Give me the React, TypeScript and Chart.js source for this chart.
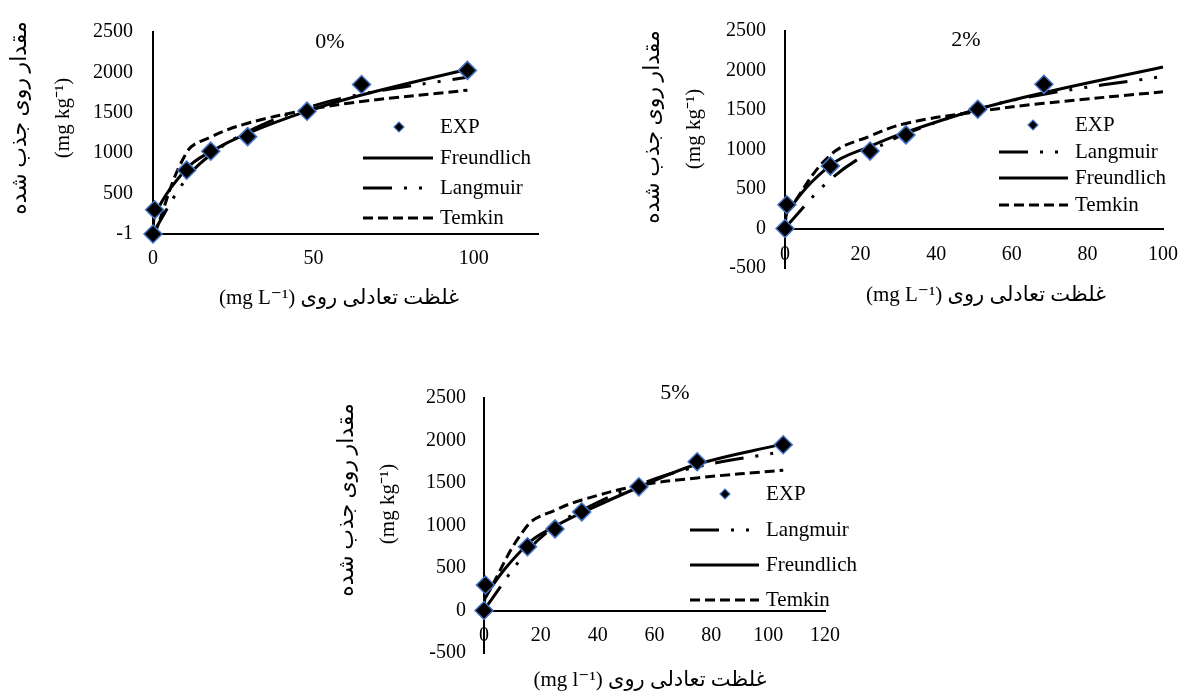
import React, { useEffect, useRef } from 'react';
import { Chart, registerables } from 'chart.js';

Chart.register(...registerables);

const SERIF = '"Liberation Serif", "Times New Roman", serif';
const MIXED = '"Liberation Serif", "DejaVu Sans", serif';

// ---------- 0% ----------
const C0_EXP = [0, 0.5, 10.5, 18, 29.5, 48, 65, 98];
const Q0_EXP = [0, 300, 790, 1025, 1205, 1520, 1850, 2025];
const C0_FIT = [0, 0.5, 10.5, 18, 29.5, 48, 65, 98];
const Q0_FREUNDLICH = [0, 235, 810, 1020, 1245, 1520, 1720, 2040];
const Q0_LANGMUIR = [0, 45, 690, 980, 1265, 1560, 1730, 1940];
const C0_TEMKIN = [0.5, 10.5, 18, 29.5, 48, 65, 98];
const Q0_TEMKIN = [0, 1010, 1200, 1370, 1535, 1640, 1780];
const X_TICKS_0 = [0, 50, 100];
const Y_TICKS_0 = [0, 500, 1000, 1500, 2000, 2500];
const Y_LABELS_0 = ['-1', '500', '1000', '1500', '2000', '2500'];
const LEGEND_0 = ['EXP', 'Freundlich', 'Langmuir', 'Temkin'];

// ---------- 2% ----------
const C2_EXP = [0, 0.5, 12, 22.5, 32, 51, 68.5];
const Q2_EXP = [0, 300, 790, 980, 1185, 1510, 1825];
const C2_FIT = [0, 0.5, 12, 22.5, 32, 51, 68.5, 100];
const Q2_LANGMUIR = [0, 35, 620, 970, 1200, 1510, 1700, 1925];
const Q2_FREUNDLICH = [0, 200, 800, 1040, 1220, 1510, 1720, 2045];
const C2_TEMKIN = [0.5, 12, 22.5, 32, 51, 68.5, 100];
const Q2_TEMKIN = [200, 930, 1170, 1330, 1480, 1585, 1730];
const X_TICKS_2 = [0, 20, 40, 60, 80, 100];
const Y_TICKS_2 = [-500, 0, 500, 1000, 1500, 2000, 2500];
const Y_LABELS_2 = ['-500', '0', '500', '1000', '1500', '2000', '2500'];
const LEGEND_2 = ['EXP', 'Langmuir', 'Freundlich', 'Temkin'];

// ---------- 5% ----------
const C5_EXP = [0, 0.5, 15.3, 25, 34.4, 54.5, 75, 105.3];
const Q5_EXP = [0, 300, 750, 960, 1160, 1455, 1750, 1950];
const C5_FIT = [0, 0.5, 15.3, 25, 34.4, 54.5, 75, 105.3];
const Q5_LANGMUIR = [0, 30, 700, 990, 1180, 1480, 1690, 1870];
const Q5_FREUNDLICH = [0, 170, 780, 990, 1150, 1450, 1720, 1960];
const C5_TEMKIN = [0.5, 15.3, 25, 34.4, 54.5, 75, 105.3];
const Q5_TEMKIN = [150, 1000, 1180, 1300, 1470, 1560, 1650];
const X_TICKS_5 = [0, 20, 40, 60, 80, 100, 120];
const Y_TICKS_5 = [-500, 0, 500, 1000, 1500, 2000, 2500];
const Y_LABELS_5 = ['-500', '0', '500', '1000', '1500', '2000', '2500'];
const LEGEND_5 = ['EXP', 'Langmuir', 'Freundlich', 'Temkin'];

const Y_TITLE = 'مقدار روی جذب شده';
const Y_UNIT = '(mg kg⁻¹)';
const X_TITLE_L = '(mg L⁻¹) غلظت تعادلی روی';
const X_TITLE_l = '(mg l⁻¹) غلظت تعادلی روی';

const LANG_DASH = [29, 12, 3, 12, 3, 12];
const TEMKIN_DASH = [10, 5];
const MARKER_BORDER = '#4472C4';

const pts = (xs: number[], ys: number[]) => xs.map((x, i) => ({ x, y: ys[i] }));

function buildDatasets(s: any) {
  const curve = (label: string, xs: number[], ys: number[], dash: number[]) => ({
    label,
    data: pts(xs, ys),
    showLine: true,
    borderColor: '#000',
    borderWidth: 3,
    borderDash: dash,
    pointRadius: 0,
    tension: 0.4,
    order: 1,
    clip: false,
  });
  return [
    {
      label: 'EXP',
      data: pts(s.expX, s.expY),
      showLine: false,
      pointStyle: 'rectRot',
      pointRadius: 9,
      pointBackgroundColor: '#000',
      pointBorderColor: MARKER_BORDER,
      pointBorderWidth: 1.5,
      order: 0,
      clip: false,
    },
    curve('Freundlich', s.fitX, s.freundlich, []),
    curve('Langmuir', s.fitX, s.langmuir, LANG_DASH),
    curve('Temkin', s.temX, s.temkin, TEMKIN_DASH),
  ];
}

function decorPlugin(cfg: any) {
  return {
    id: 'decor' + cfg.key,
    afterDraw(chart: any) {
      const ctx = chart.ctx as CanvasRenderingContext2D;
      ctx.save();
      ctx.fillStyle = '#000';
      ctx.font = `22px ${SERIF}`;
      ctx.textAlign = 'center';
      ctx.textBaseline = 'middle';
      ctx.fillText(cfg.title, cfg.titlePos[0], cfg.titlePos[1]);
      const ys: [string, number, number, string][] = [
        [Y_TITLE, cfg.yTitlePos[0][0], cfg.yTitlePos[0][1], `22px ${MIXED}`],
        [Y_UNIT, cfg.yTitlePos[1][0], cfg.yTitlePos[1][1], `21px ${SERIF}`],
      ];
      for (const [t, x, y, f] of ys) {
        ctx.save();
        ctx.translate(x, y);
        ctx.rotate(-Math.PI / 2);
        ctx.font = f;
        ctx.textAlign = 'center';
        ctx.textBaseline = 'middle';
        ctx.fillText(t, 0, 0);
        ctx.restore();
      }
      ctx.font = `21px ${MIXED}`;
      ctx.textAlign = 'center';
      ctx.textBaseline = 'middle';
      ctx.fillText(cfg.xTitle, cfg.xTitlePos[0], cfg.xTitlePos[1]);
      const dsByLabel: any = {};
      chart.data.datasets.forEach((d: any) => (dsByLabel[d.label] = d));
      cfg.legendOrder.forEach((name: string, i: number) => {
        const y = cfg.legendYs[i];
        const d = dsByLabel[name];
        if (name === 'EXP') {
          const r = 5;
          const x = cfg.legendMarkerX;
          ctx.beginPath();
          ctx.moveTo(x - r, y);
          ctx.lineTo(x, y - r);
          ctx.lineTo(x + r, y);
          ctx.lineTo(x, y + r);
          ctx.closePath();
          ctx.fillStyle = '#000';
          ctx.fill();
          ctx.lineWidth = 1.2;
          ctx.strokeStyle = MARKER_BORDER;
          ctx.setLineDash([]);
          ctx.stroke();
        } else {
          ctx.beginPath();
          ctx.setLineDash(d.borderDash || []);
          ctx.lineWidth = 3;
          ctx.strokeStyle = '#000';
          ctx.lineCap = 'butt';
          ctx.moveTo(cfg.legendLineX[0], y);
          ctx.lineTo(cfg.legendLineX[1], y);
          ctx.stroke();
          ctx.setLineDash([]);
        }
        ctx.fillStyle = '#000';
        ctx.font = `21px ${SERIF}`;
        ctx.textAlign = 'left';
        ctx.textBaseline = 'middle';
        ctx.fillText(name, cfg.legendTextX, y);
      });
      ctx.restore();
    },
  };
}

function Panel({ cfg }: { cfg: any }) {
  const ref = useRef<HTMLCanvasElement | null>(null);
  useEffect(() => {
    if (!ref.current) return;
    const chart = new Chart(ref.current, {
      type: 'scatter',
      data: { datasets: buildDatasets(cfg.series) as any },
      options: {
        responsive: false,
        maintainAspectRatio: false,
        animation: false,
        events: [],
        layout: { autoPadding: false, padding: { ...cfg.padding, left: 0 } },
        plugins: { legend: { display: false }, tooltip: { enabled: false }, title: { display: false } },
        scales: {
          x: {
            type: 'linear',
            min: 0,
            max: cfg.xMax,
            position: { y: 0 } as any,
            grid: { display: false, drawTicks: false },
            border: { display: true, color: '#000', width: 2 },
            ticks: { color: '#000', font: { family: SERIF, size: 20 }, padding: cfg.xTickPad, maxRotation: 0, autoSkip: false },
            afterBuildTicks: (s: any) => {
              s.ticks = cfg.xTicks.map((v: number) => ({ value: v }));
            },
          },
          y: {
            type: 'linear',
            min: cfg.yMin,
            max: cfg.yMax,
            position: 'left',
            grid: { display: false, drawTicks: false },
            border: { display: true, color: '#000', width: 2 },
            ticks: {
              color: '#000',
              font: { family: SERIF, size: 20 },
              padding: cfg.yTickPad,
              autoSkip: false,
              callback: (_v: any, i: number) => cfg.yLabels[i],
            },
            afterBuildTicks: (s: any) => {
              s.ticks = cfg.yTicks.map((v: number) => ({ value: v }));
            },
            afterFit: (s: any) => {
              s.width = cfg.padding.left;
            },
          },
        },
      },
      plugins: [decorPlugin(cfg)],
    });
    return () => chart.destroy();
  }, [cfg]);
  return (
    <canvas
      ref={ref}
      width={cfg.width}
      height={cfg.height}
      style={{ position: 'absolute', left: cfg.left, top: cfg.top, width: cfg.width, height: cfg.height }}
    />
  );
}

const PANELS = [
  {
    key: '0',
    left: 0, top: 0, width: 560, height: 320,
    padding: { left: 153, top: 22, right: 22, bottom: 86 },
    xMax: 120, yMin: 0, yMax: 2500,
    xTicks: X_TICKS_0, yTicks: Y_TICKS_0, yLabels: Y_LABELS_0,
    xTickPad: 13, yTickPad: 20,
    title: '0%', titlePos: [330, 42],
    yTitlePos: [[20, 118], [63, 118]],
    xTitle: X_TITLE_L, xTitlePos: [339, 298],
    legendOrder: LEGEND_0, legendYs: [127, 158, 188, 218],
    legendLineX: [363, 433], legendTextX: 440, legendMarkerX: 399,
    series: { expX: C0_EXP, expY: Q0_EXP, fitX: C0_FIT, freundlich: Q0_FREUNDLICH, langmuir: Q0_LANGMUIR, temX: C0_TEMKIN, temkin: Q0_TEMKIN },
  },
  {
    key: '2',
    left: 600, top: 0, width: 592, height: 320,
    padding: { left: 185, top: 21, right: 22, bottom: 52 },
    xMax: 100, yMin: -500, yMax: 2500,
    xTicks: X_TICKS_2, yTicks: Y_TICKS_2, yLabels: Y_LABELS_2,
    xTickPad: 14, yTickPad: 19,
    title: '2%', titlePos: [366, 40],
    yTitlePos: [[53, 127], [94, 129]],
    xTitle: X_TITLE_L, xTitlePos: [386, 295],
    legendOrder: LEGEND_2, legendYs: [125, 152, 178, 205],
    legendLineX: [399, 468], legendTextX: 475, legendMarkerX: 433,
    series: { expX: C2_EXP, expY: Q2_EXP, fitX: C2_FIT, freundlich: Q2_FREUNDLICH, langmuir: Q2_LANGMUIR, temX: C2_TEMKIN, temkin: Q2_TEMKIN },
  },
  {
    key: '5',
    left: 300, top: 360, width: 580, height: 332,
    padding: { left: 184, top: 38, right: 55, bottom: 39 },
    xMax: 120, yMin: -500, yMax: 2500,
    xTicks: X_TICKS_5, yTicks: Y_TICKS_5, yLabels: Y_LABELS_5,
    xTickPad: 13, yTickPad: 18,
    title: '5%', titlePos: [375, 33],
    yTitlePos: [[47, 140], [88, 144]],
    xTitle: X_TITLE_l, xTitlePos: [350, 320],
    legendOrder: LEGEND_5, legendYs: [134, 170, 205, 240],
    legendLineX: [390, 459], legendTextX: 466, legendMarkerX: 425,
    series: { expX: C5_EXP, expY: Q5_EXP, fitX: C5_FIT, freundlich: Q5_FREUNDLICH, langmuir: Q5_LANGMUIR, temX: C5_TEMKIN, temkin: Q5_TEMKIN },
  },
];

export default function App() {
  return (
    <div style={{ position: 'absolute', left: 0, top: 0, width: 1192, height: 692, background: '#fff', overflow: 'hidden' }}>
      {PANELS.map((p) => (
        <Panel key={p.key} cfg={p} />
      ))}
    </div>
  );
}
